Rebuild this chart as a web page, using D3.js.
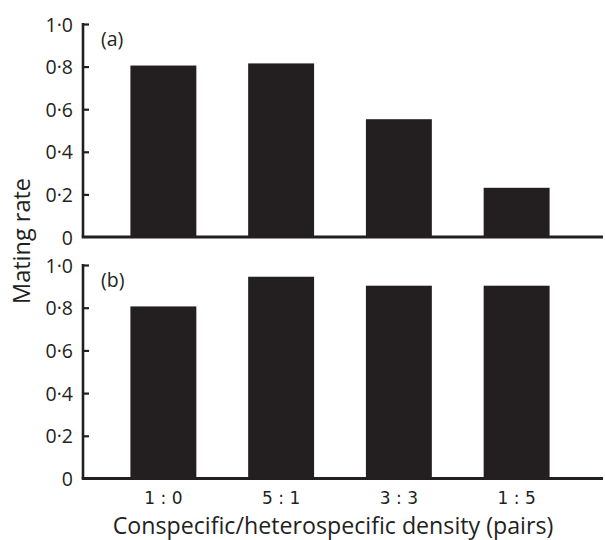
<!DOCTYPE html>
<html><head><meta charset="utf-8">
<script src="https://cdn.jsdelivr.net/npm/d3@7"></script>
<style>body{margin:0;background:#fff}svg{display:block}</style>
</head><body>
<script>
const categories = ["1 : 0", "5 : 1", "3 : 3", "1 : 5"];
const valuesA = [0.805, 0.815, 0.553, 0.231];
const valuesB = [0.806, 0.945, 0.903, 0.903];
const yTicks = [0, 0.2, 0.4, 0.6, 0.8, 1.0];
const panelLabels = ["(a)", "(b)"];
const xTitle = "Conspecific/heterospecific density (pairs)";
const yTitle = "Mating rate";

const W = 605, H = 540, ink = "#231f20";
const svg = d3.select("body").append("svg").attr("width", W).attr("height", H);
const font = "'Open Sans', sans-serif";

const x = d3.scaleBand().domain(categories).range([104.5, 575.5])
  .paddingInner(0.44).paddingOuter(0.22);
const axisX0 = 83, axisX1 = 603;
const fmt = v => v === 0 ? "0" : d3.format(".1f")(v).replace(".", "\u00b7");

function panel(vals, top, bottom, label, showX) {
  const y = d3.scaleLinear().domain([0, 1]).range([bottom, top]);
  const g = svg.append("g");
  g.selectAll("rect").data(vals).join("rect")
    .attr("x", (d, i) => x(categories[i]))
    .attr("width", x.bandwidth())
    .attr("y", d => y(d))
    .attr("height", d => y(0) - y(d))
    .attr("fill", ink);
  const ya = d3.axisLeft(y).tickValues(yTicks).tickFormat(fmt).tickSize(-6).tickPadding(10);
  const ag = g.append("g").attr("transform", `translate(${axisX0},0)`).call(ya);
  ag.select(".domain").attr("stroke", ink).attr("stroke-width", 2.6).attr("d", `M0,${y(1) - 1}V${y(0)}`);
  ag.selectAll(".tick line").attr("stroke", ink).attr("stroke-width", 2.2);
  ag.selectAll(".tick").filter(d => d === 0).select("line").remove();
  ag.selectAll(".tick text").attr("fill", ink).attr("font-family", font).attr("font-size", 19.5).attr("dy", "0.36em");
  g.append("line").attr("x1", axisX0 - 1.3).attr("x2", axisX1).attr("y1", y(0)).attr("y2", y(0))
    .attr("stroke", ink).attr("stroke-width", 3);
  g.append("text").attr("x", 101).attr("y", top + 22).text(label)
    .attr("font-family", font).attr("font-size", 19.5).attr("fill", ink);
  if (showX) {
    g.selectAll(".xl").data(categories).join("text").attr("class", "xl")
      .attr("x", d => x(d) + x.bandwidth() / 2).attr("y", bottom + 25)
      .attr("text-anchor", "middle").attr("font-family", "'DejaVu Sans', sans-serif")
      .attr("font-size", 17).attr("fill", ink).text(d => d);
  }
}
panel(valuesA, 24, 237, panelLabels[0], false);
panel(valuesB, 265, 478.5, panelLabels[1], true);

svg.append("text").attr("x", 333).attr("y", 534).attr("text-anchor", "middle")
  .attr("font-family", font).attr("font-size", 23.2).attr("fill", ink).text(xTitle);
svg.append("text").attr("transform", "translate(30,241) rotate(-90)").attr("text-anchor", "middle")
  .attr("font-family", font).attr("font-size", 23.5).attr("fill", ink).text(yTitle);
</script>
</body></html>
